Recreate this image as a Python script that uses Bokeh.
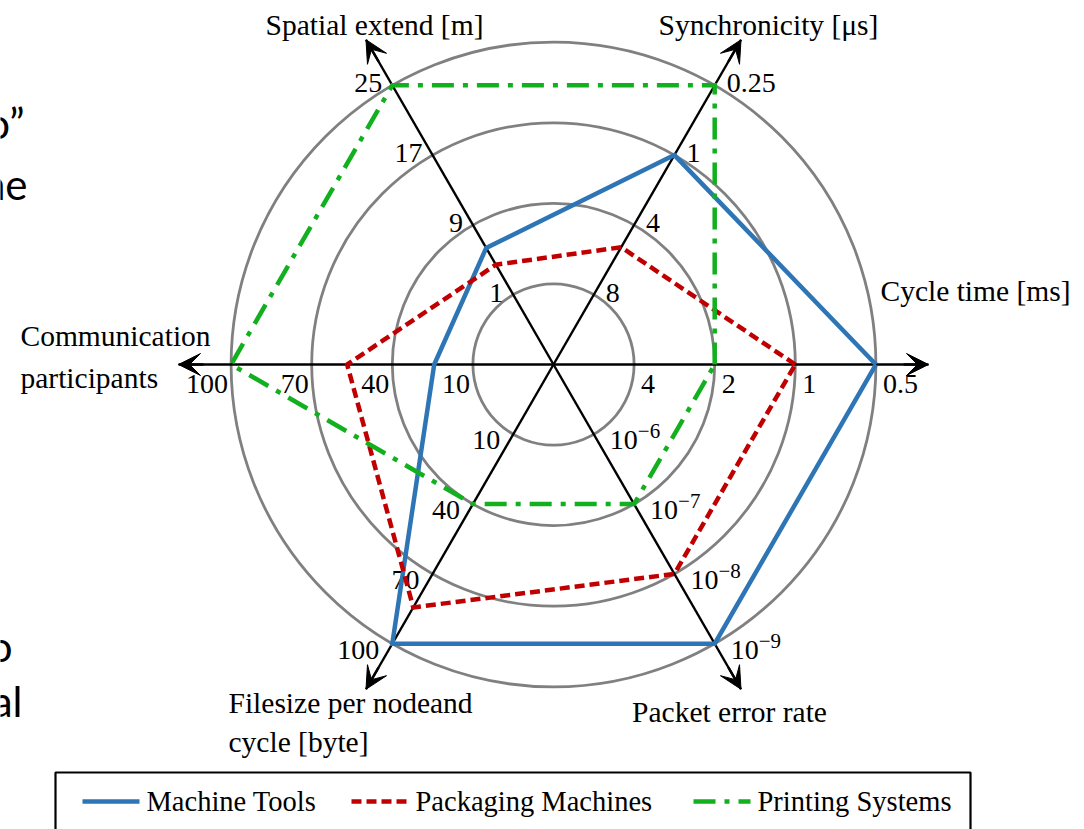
import numpy as np
from bokeh.plotting import figure
from bokeh.models import Range1d, Arrow, VeeHead, ColumnDataSource
from bokeh.core.properties import value
from bokeh.embed import file_html
from bokeh.resources import INLINE

# ---- data -------------------------------------------------------------
# six radar axes, counter-clockwise from the right
axis_titles = ["Cycle time [ms]", "Synchronicity [μs]", "Spatial extend [m]",
               "Communication participants", "Filesize per nodeand cycle [byte]",
               "Packet error rate"]
axis_angles_deg = [0, 60, 120, 180, 240, 300]

# ring positions (1..4) and the tick labels shown on each axis
ring_levels = [1, 2, 3, 4]
cycle_ticks = ["4", "2", "1", "0.5"]
sync_ticks = ["8", "4", "1", "0.25"]
spatial_ticks = ["1", "9", "17", "25"]
participant_ticks = ["10", "40", "70", "100"]
filesize_ticks = ["10", "40", "70", "100"]
error_exponents = ["−6", "−7", "−8", "−9"]   # packet error rate 10^x

# requirement level of each application on the ring scale (0..4)
series_names = ["Machine Tools", "Packaging Machines", "Printing Systems"]
machine_tools = [4.0, 3.0, 1.67, 1.48, 4.0, 4.0]
packaging_machines = [3.0, 1.68, 1.43, 2.56, 3.48, 3.0]
printing_systems = [2.0, 4.0, 4.0, 4.0, 2.0, 2.0]

# ---- layout ------------------------------------------------------------
W, H = 1084, 829
CX, CY = 553, 364        # screen position of the radar centre
RING = 80.6              # pixel distance between rings
TIP = 375                # arrow tip distance from the centre
SERIF = value("Liberation Serif")


def sx(px):
    return px - CX


def sy(py):
    return CY - py


p = figure(width=W, height=H, x_range=Range1d(-CX, W - CX), y_range=Range1d(CY - H, CY),
           output_backend="svg", toolbar_location=None, min_border=0,
           x_axis_type=None, y_axis_type=None)
p.grid.visible = False
p.outline_line_color = None
p.background_fill_color = "white"

theta = np.radians(axis_angles_deg)
cos_t, sin_t = np.cos(theta), np.sin(theta)

# grey rings
p.circle(x=[0] * len(ring_levels), y=[0] * len(ring_levels),
         radius=[RING * k for k in ring_levels],
         fill_color=None, line_color="#808080", line_width=2.8)

# black axis lines with arrow heads
p.segment(x0=0, y0=0, x1=TIP * cos_t, y1=TIP * sin_t, line_color="black", line_width=2.4)
head_src = ColumnDataSource(dict(x0=(TIP - 25) * cos_t, y0=(TIP - 25) * sin_t,
                                 x1=TIP * cos_t, y1=TIP * sin_t))
p.add_layout(Arrow(end=VeeHead(size=22, fill_color="black", line_color="black", line_width=1),
                   x_start="x0", y_start="y0", x_end="x1", y_end="y1",
                   line_color="black", line_width=2.4, source=head_src))

# tick labels along each axis: (labels, axis index, align, x offset, y offset)
tick_specs = [
    (cycle_ticks, 0, "left", 7, 19),
    (sync_ticks, 1, "left", 12, -2),
    (spatial_ticks, 2, "right", -10, -2),
    (participant_ticks, 3, "right", -3, 19),
    (filesize_ticks, 4, "right", -13, 6),
]
lv = np.array(ring_levels, dtype=float)
for labels, i, align, dx, dy in tick_specs:
    p.text(x=lv * RING * cos_t[i], y=lv * RING * sin_t[i], text=labels,
           text_font=SERIF, text_font_size="28px", text_color="black",
           text_align=align, text_baseline="middle", x_offset=dx, y_offset=dy)

# packet error rate ticks: base 10 with a raised exponent
ex, ey = lv * RING * cos_t[5], lv * RING * sin_t[5]
p.text(x=ex, y=ey, text=["10"] * len(error_exponents), text_font=SERIF,
       text_font_size="28px", text_align="left", text_baseline="middle",
       x_offset=16, y_offset=6)
p.text(x=ex, y=ey, text=error_exponents, text_font=SERIF,
       text_font_size="21px", text_align="left", text_baseline="middle",
       x_offset=44, y_offset=-3)

# axis titles
title_specs = [
    ("Cycle time [ms]", 975, 290, "center"),
    ("Synchronicity [μs]", 768, 24, "center"),
    ("Spatial extend [m]", 374, 24, "center"),
    ("Communication", 20, 335, "left"),
    ("participants", 20, 377, "left"),
    ("Filesize per nodeand", 228, 702, "left"),
    ("cycle [byte]", 228, 741, "left"),
    ("Packet error rate", 729, 711, "center"),
]
for txt, tx, ty, align in title_specs:
    p.text(x=[sx(tx)], y=[sy(ty)], text=[txt], text_font=SERIF, text_font_size="29.5px",
           text_color="black", text_align=align, text_baseline="middle")

# series polygons
series_values = [machine_tools, packaging_machines, printing_systems]
series_colors = ["#2E75B6", "#C00000", "#12B01E"]
series_dashes = ["solid", "10 5", "22 9 5 9"]
for vals, color, dash in zip(series_values, series_colors, series_dashes):
    r = np.array(vals) * RING
    xs = np.append(r * cos_t, r[0] * cos_t[0])
    ys = np.append(r * sin_t, r[0] * sin_t[0])
    p.line(xs, ys, line_color=color, line_width=4.5, line_dash=dash, line_join="miter")

# legend box (runs past the bottom edge)
p.quad(left=sx(55), right=sx(970), top=sy(772), bottom=sy(880),
       fill_color=None, line_color="black", line_width=2.2)
legend_sample_x = [82, 351, 693]
for name, color, dash, lx in zip(series_names, series_colors, series_dashes, legend_sample_x):
    p.line([sx(lx), sx(lx + 57)], [sy(801), sy(801)], line_color=color, line_width=4.5, line_dash=dash)
    p.text(x=[sx(lx + 64)], y=[sy(801)], text=[name], text_font=SERIF, text_font_size="28.5px",
           text_color="black", text_align="left", text_baseline="middle")

# slide text running in from the left edge
side_text = [("o”", 24, 122), ("he", 27, 183), ("o", 12, 645), ("al", 22, 700)]
for txt, rx, by in side_text:
    p.text(x=[sx(rx)], y=[sy(by)], text=[txt], text_font=value("Lato"), text_font_size="42px",
           text_color="black", text_align="right", text_baseline="alphabetic")

open("out.html", "w").write(file_html(p, INLINE))
